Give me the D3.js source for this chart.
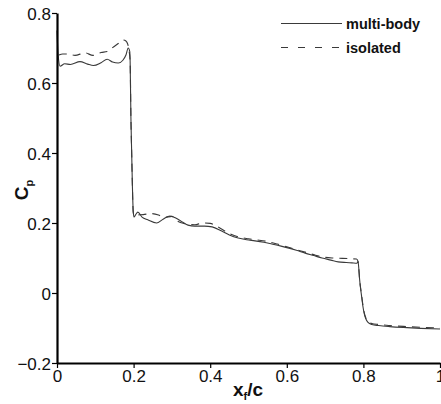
<!DOCTYPE html>
<html>
<head>
<meta charset="utf-8">
<script src="https://cdn.jsdelivr.net/npm/d3@7"></script>
<style>
  html, body { margin: 0; padding: 0; background: #fff; }
  svg { display: block; font-family: "Liberation Sans", Arial, sans-serif; }
</style>
</head>
<body>
<svg id="chart" width="441" height="404"></svg>
<script>
// Pressure coefficient along the chord, multi-body vs isolated configuration
const multiBodyX = [0, 0.003, 0.008, 0.02, 0.035, 0.06, 0.08, 0.095, 0.115, 0.131, 0.145, 0.16, 0.172, 0.18, 0.186, 0.19,
  0.191, 0.193, 0.195, 0.197, 0.199, 0.201, 0.206, 0.211, 0.222, 0.237, 0.26, 0.277, 0.295, 0.31, 0.323, 0.342, 0.36,
  0.385, 0.405, 0.43, 0.45, 0.473, 0.495, 0.517, 0.54, 0.561, 0.585, 0.603, 0.625, 0.648, 0.67, 0.692, 0.715, 0.734,
  0.755, 0.77, 0.783, 0.786, 0.788, 0.79, 0.793, 0.796, 0.799, 0.802, 0.806, 0.812, 0.822, 0.84, 0.869, 0.914, 0.95, 1.0];
const multiBodyCp = [0.75, 0.68, 0.648, 0.655, 0.653, 0.661, 0.654, 0.65, 0.658, 0.668, 0.66, 0.657, 0.665, 0.68, 0.7, 0.69,
  0.66, 0.5, 0.4, 0.3, 0.235, 0.217, 0.225, 0.231, 0.217, 0.209, 0.2, 0.211, 0.22, 0.214, 0.206, 0.194, 0.191,
  0.191, 0.189, 0.177, 0.166, 0.157, 0.152, 0.149, 0.145, 0.14, 0.134, 0.129, 0.122, 0.114, 0.107, 0.1, 0.094, 0.089,
  0.087, 0.086, 0.085, 0.09, 0.07, 0.04, 0.01, -0.015, -0.04, -0.058, -0.073, -0.084, -0.09, -0.093, -0.096, -0.099, -0.101, -0.103];

const isolatedX = [0.005, 0.015, 0.029, 0.047, 0.073, 0.094, 0.115, 0.131, 0.144, 0.16, 0.172, 0.18, 0.185, 0.188, 0.191,
  0.193, 0.195, 0.197, 0.199, 0.202, 0.21, 0.225, 0.245, 0.265, 0.28, 0.3, 0.315, 0.335, 0.36, 0.38, 0.4, 0.42, 0.45,
  0.475, 0.5, 0.52, 0.55, 0.575, 0.6, 0.625, 0.65, 0.675, 0.7, 0.72, 0.745, 0.765, 0.782, 0.786, 0.788, 0.79, 0.793,
  0.796, 0.799, 0.802, 0.806, 0.812, 0.822, 0.84, 0.869, 0.914, 0.95, 1.0];
const isolatedCp = [0.68, 0.683, 0.683, 0.679, 0.686, 0.679, 0.687, 0.69, 0.7, 0.713, 0.723, 0.72, 0.71, 0.694, 0.66,
  0.5, 0.4, 0.3, 0.23, 0.222, 0.223, 0.224, 0.227, 0.223, 0.216, 0.219, 0.205, 0.198, 0.195, 0.2, 0.199, 0.189, 0.17,
  0.16, 0.155, 0.152, 0.147, 0.14, 0.132, 0.124, 0.116, 0.108, 0.102, 0.1, 0.099, 0.098, 0.097, 0.09, 0.07, 0.04, 0.012,
  -0.012, -0.037, -0.055, -0.07, -0.081, -0.087, -0.09, -0.093, -0.096, -0.098, -0.1];

const xTicks = [0, 0.2, 0.4, 0.6, 0.8, 1];
const yTicks = [-0.2, 0, 0.2, 0.4, 0.6, 0.8];
const seriesNames = ["multi-body", "isolated"];

const svg = d3.select("#chart");
const x = d3.scaleLinear().domain([0, 1]).range([57, 440]);
const y = d3.scaleLinear().domain([-0.2, 0.8]).range([363, 13]);

const lineColor = "#3a3a3a";
const line = d3.line().x(d => x(d[0])).y(d => y(d[1])).curve(d3.curveMonotoneX);

const mb = multiBodyX.map((v, i) => [v, multiBodyCp[i]]);
const iso = isolatedX.map((v, i) => [v, isolatedCp[i]]);

svg.append("path").datum(iso).attr("d", line)
  .attr("fill", "none").attr("stroke", lineColor).attr("stroke-width", 1.1)
  .attr("stroke-dasharray", "8,6");
svg.append("path").datum(mb).attr("d", line)
  .attr("fill", "none").attr("stroke", lineColor).attr("stroke-width", 1.1);

// Axes
const fmt = d => d === 0 ? "0" : (d === 1 ? "1" : d3.format(".1f")(d));
const xAxis = svg.append("g").attr("transform", `translate(0,${y(-0.2)})`)
  .call(d3.axisBottom(x).tickValues(xTicks).tickFormat(fmt).tickSizeOuter(0).tickSizeInner(5).tickPadding(0));
const yAxis = svg.append("g").attr("transform", `translate(${x(0)},0)`)
  .call(d3.axisLeft(y).tickValues(yTicks).tickFormat(fmt).tickSizeOuter(0).tickSizeInner(5).tickPadding(1));

[xAxis, yAxis].forEach(g => {
  g.select(".domain").attr("stroke", "#000").attr("stroke-width", 2.2);
  g.selectAll(".tick line").attr("stroke", "#000").attr("stroke-width", 1.2);
  g.selectAll(".tick text").attr("fill", "#111").style("font-size", "17px")
    .style("font-family", "'Liberation Sans', Arial, sans-serif");
});
xAxis.selectAll(".tick text").attr("dy", "0.8em");
yAxis.selectAll(".tick text").attr("dy", "0.36em");

// Axis titles
const xt = svg.append("text").attr("x", 248).attr("y", 396).attr("text-anchor", "middle")
  .style("font-size", "19px").style("font-weight", "bold").attr("fill", "#111");
xt.append("tspan").text("x");
xt.append("tspan").attr("dy", 4).style("font-size", "11px").text("f");
xt.append("tspan").attr("dy", -4).text("/c");

const yt = svg.append("text").attr("transform", "translate(28,190) rotate(-90)").attr("text-anchor", "middle")
  .style("font-size", "19px").style("font-weight", "bold").attr("fill", "#111");
yt.append("tspan").text("C");
yt.append("tspan").attr("dy", 5).style("font-size", "11px").text("p");

// Legend
const legend = svg.append("g");
seriesNames.forEach((name, i) => {
  const ly = 23.5 + i * 24;
  legend.append("line").attr("x1", 281).attr("x2", 342).attr("y1", ly).attr("y2", ly)
    .attr("stroke", lineColor).attr("stroke-width", 1.1)
    .attr("stroke-dasharray", i === 1 ? "7,10" : null);
  legend.append("text").attr("x", 346).attr("y", ly + 5)
    .style("font-size", "14.5px").style("font-weight", "bold").attr("fill", "#111").text(name);
});
</script>
</body>
</html>
